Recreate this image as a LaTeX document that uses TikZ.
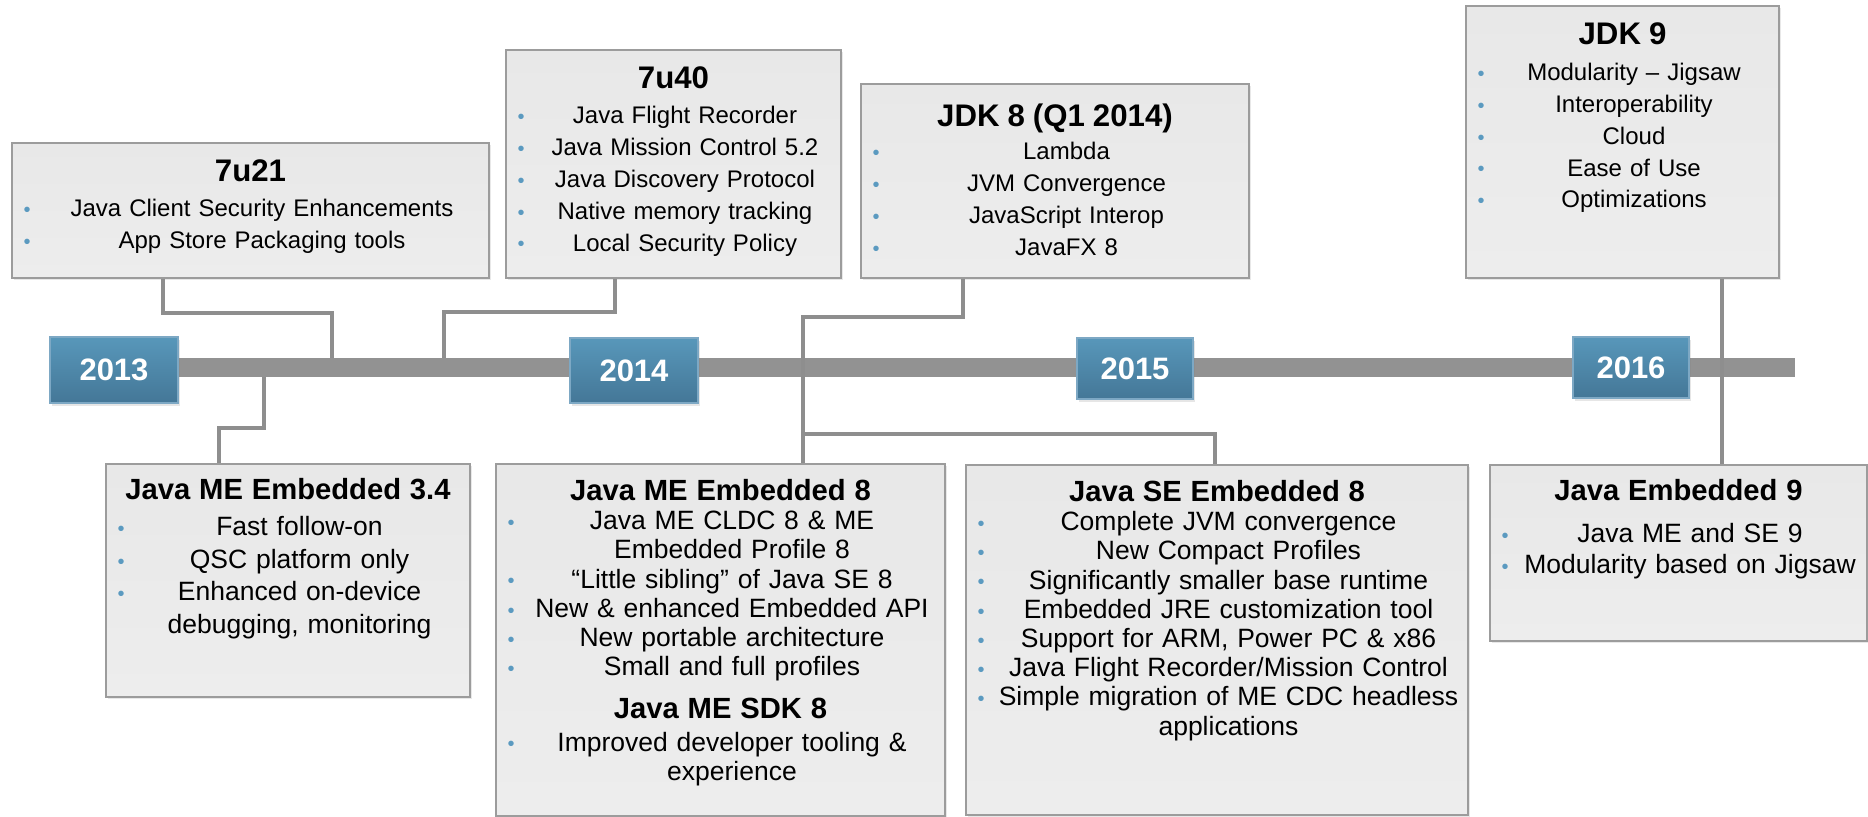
\documentclass[tikz,border=0pt]{standalone}
\usepackage{fontspec}
\setmainfont{Liberation Sans}
\usepackage{tikz}
\usetikzlibrary{calc}
\usetikzlibrary{shadows}

\definecolor{linegray}{HTML}{8E8E8E}
\definecolor{axisgray}{HTML}{929292}
\definecolor{boxedge}{HTML}{9C9C9C}
\definecolor{boxtop}{HTML}{E8E8E8}
\definecolor{boxbot}{HTML}{EDEDED}
\definecolor{yeartop}{HTML}{5897BA}
\definecolor{yearbot}{HTML}{447797}
\definecolor{yearedge}{HTML}{7DA8C4}
\definecolor{dotblue}{HTML}{5B9AC0}

\newcommand{\dotitem}[1]{\par\noindent\makebox[11.5pt][l]{\hspace*{5.75pt}{\fontsize{10pt}{10pt}\selectfont\raisebox{0.1pt}{\textcolor{dotblue}{\textbullet}}}}%
\makebox[\dimexpr\linewidth-11.5pt\relax][c]{#1}}
\newcommand{\moreline}[1]{\par\noindent\hspace*{11.5pt}\makebox[\dimexpr\linewidth-11.5pt\relax][c]{#1}}
\newcommand{\uphead}[1]{{\fontsize{15.6pt}{15.6pt}\selectfont\bfseries #1\par}}
\newcommand{\lowhead}[1]{{\fontsize{14.6pt}{14.6pt}\selectfont\bfseries #1\par}}

\begin{document}
\begin{tikzpicture}[x=0.5pt, y=-0.5pt,
	infobox/.style={draw=boxedge, line width=1pt, anchor=north west, inner sep=0pt,
		top color=boxtop, bottom color=boxbot,
		drop shadow={shadow xshift=1.2pt, shadow yshift=-1.2pt, opacity=0.18}},
	uptext/.style={inner sep=0pt, anchor=base, align=center, font=\fontsize{12pt}{15.9pt}\selectfont},
	lowtext/.style={inner sep=0pt, anchor=base, align=center, font=\fontsize{13.25pt}{14.6pt}\selectfont},
	yearbox/.style={draw=yearedge, line width=0.6pt, top color=yeartop, bottom color=yearbot,
		text=white, inner sep=0pt, font=\fontsize{15.5pt}{15.5pt}\selectfont\bfseries,
		drop shadow={shadow xshift=1pt, shadow yshift=-1.5pt, opacity=0.2}},
	axisbar/.style={fill=axisgray, inner sep=0pt},
	link/.style={draw=linegray, line width=2.3pt}]

%\newcommand{\gap}{35}
\newcommand{\uptop}{40}
\newcommand{\lowtop}{37.5}

	\useasboundingbox (0,0) rectangle (1868,817);

	% the line and the years
	\node[axisbar, minimum width=840.5pt, minimum height=9.5pt] (axis) at (954.5,367.5) {};
	\node[yearbox, minimum width=64pt, minimum height=33pt] (y2013) at (114,370) {2013};
	\node[yearbox, minimum width=64pt, minimum height=32.5pt] (y2014) at (634,370.5) {2014};
	\node[yearbox, minimum width=58pt, minimum height=30.5pt] (y2015) at (1135,368.5) {2015};
	\node[yearbox, minimum width=58pt, minimum height=30.5pt] (y2016) at (1631,367.5) {2016};

	% releases above
	\node[infobox, minimum width=238.5pt, minimum height=67.5pt] (u21) at (11,142) {};
	\node[uptext, text width=238.5pt] (u21txt) at ($(u21.north)+(0,\uptop)$) {\uphead{7u21}\vspace{1.6pt}%
		\dotitem{Java Client Security Enhancements}\dotitem{App Store Packaging tools}};

	\node[infobox, minimum width=167.5pt, minimum height=114pt] (u40) at (505,49) {};
	\node[uptext, text width=167.5pt] (u40txt) at ($(u40.north)+(0,\uptop)$) {\uphead{7u40}\vspace{1.6pt}%
		\dotitem{Java Flight Recorder}\dotitem{Java Mission Control 5.2}\dotitem{Java Discovery Protocol}%
		\dotitem{Native memory tracking}\dotitem{Local Security Policy}};

	\node[infobox, minimum width=194pt, minimum height=97pt] (jdk8) at (860,83) {};
	\node[uptext, text width=194pt] (jdk8txt) at ($(jdk8.north)+(0,44)$) {\uphead{JDK 8 (Q1 2014)}\vspace{0.6pt}%
		\dotitem{Lambda}\dotitem{JVM Convergence}\dotitem{JavaScript Interop}\dotitem{JavaFX 8}};

	\node[infobox, minimum width=156.5pt, minimum height=136pt] (jdk9) at (1465,5) {};
	\node[uptext, text width=156.5pt] (jdk9txt) at ($(jdk9.north)+(0,40)$) {\uphead{JDK 9}\vspace{2pt}%
		\dotitem{Modularity -- Jigsaw}\dotitem{Interoperability}\dotitem{Cloud}\dotitem{Ease of Use}%
		\dotitem{Optimizations}};

	% releases below
	\node[infobox, minimum width=182pt, minimum height=116.5pt] (me34) at (105,463) {};
	\node[lowtext, text width=182pt, font=\fontsize{13.25pt}{16.2pt}\selectfont] (me34txt) at ($(me34.north)+(0,37)$)
		{\lowhead{Java ME Embedded 3.4}\vspace{1.8pt}%
		\dotitem{Fast follow-on}\dotitem{QSC platform only}\dotitem{Enhanced on-device}\moreline{debugging, monitoring}};

	\node[infobox, minimum width=224.5pt, minimum height=176pt] (me8) at (495,463) {};
	\node[lowtext, text width=224.5pt] (me8txt) at ($(me8.north)+(0,\lowtop)$) {\lowhead{Java ME Embedded 8}%
		\dotitem{Java ME CLDC 8 \& ME}\moreline{Embedded Profile 8}\dotitem{“Little sibling” of Java SE 8}%
		\dotitem{New \& enhanced Embedded API}\dotitem{New portable architecture}\dotitem{Small and full profiles}%
		\par\vspace{6.6pt}\lowhead{Java ME SDK 8}\vspace{1.9pt}%
		\dotitem{Improved developer tooling \&}\moreline{experience}};

	\node[infobox, minimum width=251pt, minimum height=175pt] (se8) at (965,464) {};
	\node[lowtext, text width=251pt] (se8txt) at ($(se8.north)+(0,\lowtop)$) {\lowhead{Java SE Embedded 8}%
		\dotitem{Complete JVM convergence}\dotitem{New Compact Profiles}\dotitem{Significantly smaller base runtime}%
		\dotitem{Embedded JRE customization tool}\dotitem{Support for ARM, Power PC \& x86}%
		\dotitem{Java Flight Recorder/Mission Control}\dotitem{Simple migration of ME CDC headless}\moreline{applications}};

	\node[infobox, minimum width=188.5pt, minimum height=88pt] (emb9) at (1489,464) {};
	\node[lowtext, text width=188.5pt, font=\fontsize{13.25pt}{15.5pt}\selectfont] (emb9txt) at ($(emb9.north)+(0,37)$)
		{\lowhead{Java Embedded 9}\vspace{5.5pt}%
		\dotitem{Java ME and SE 9}\dotitem{Modularity based on Jigsaw}};

	% links to the line
	\coordinate (fork) at (803,434);
	\draw[link] (u21.south -| 163,0) |- (332,313) -- (axis.north -| 332,0);
	\draw[link] (u40.south -| 615,0) |- (444,312) -- (axis.north -| 444,0);
	\draw[link] (jdk8.south -| 963,0) |- (803,317) -- (me8.north -| 803,0);
	\draw[link] (fork) -| (se8.north -| 1215,0);
	\draw[link] (jdk9.south -| 1722,0) -- (emb9.north -| 1722,0);
	\draw[link] (axis.south -| 264,0) |- (219,428) -- (me34.north -| 219,0);
\end{tikzpicture}
\end{document}
